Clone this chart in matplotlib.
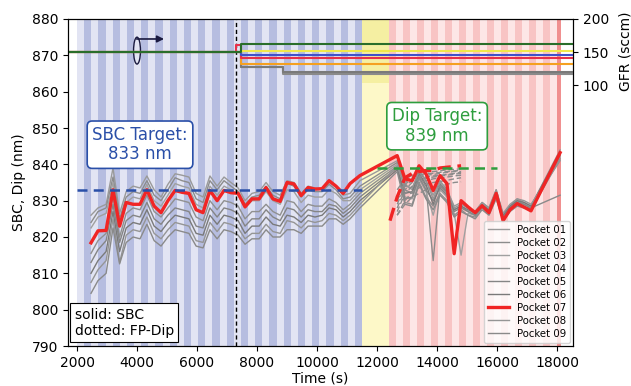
import numpy as np
import matplotlib
matplotlib.use("Agg")
import matplotlib.pyplot as plt
from matplotlib.patches import Ellipse

plt.rcParams['font.size'] = 10

# ---- data ----
t_sbc = [2467, 2700, 2970, 3200, 3420, 3640, 3870, 4100, 4330, 4570, 4800, 5030, 5270,
         5500, 5730, 5970, 6200, 6430, 6670, 6900, 7130, 7370, 7600, 7830, 8070, 8300,
         8530, 8770, 9000, 9230, 9470, 9700, 9930, 10170, 10400, 10630, 10870, 11100,
         11430, 12670, 12930, 13170, 13400, 13630, 13870, 14100, 14330, 14570, 14800,
         15030, 15270, 15500, 15730, 15970, 16200, 16430, 16670, 16900, 17130, 18100]

sbc = {
    "Pocket 01": [826.0, 828.0, 829.0, 839.0, 826.5, 832.5, 834.0, 833.5, 836.8, 833.0, 831.0, 834.5, 837.4,
                  837.0, 836.5, 832.0, 831.0, 836.8, 834.0, 836.5, 835.0, 833.5, 830.0, 832.0, 832.5, 835.0,
                  832.5, 831.5, 835.5, 835.0, 832.0, 834.0, 833.5, 833.0, 835.0, 834.0, 831.5, 832.0,
                  835.5, 841.0, 834.5, 833.0, 838.5, 835.5, 831.5, 835.5, 833.0, 828.5, 829.5,
                  828.0, 827.0, 829.5, 828.0, 833.0, 826.0, 828.5, 830.5, 829.5, 828.5, 844.0],
    "Pocket 02": [824.0, 827.0, 828.0, 836.5, 825.0, 831.0, 832.5, 832.0, 835.5, 831.5, 830.0, 833.0, 836.3,
                  835.5, 835.0, 830.5, 829.5, 835.5, 833.0, 835.5, 834.0, 832.5, 829.0, 831.0, 831.5, 834.0,
                  831.5, 830.5, 834.7, 834.0, 831.0, 833.0, 832.5, 832.5, 834.5, 833.0, 830.5, 831.0,
                  834.0, 840.5, 833.0, 832.0, 837.0, 834.0, 813.5, 834.0, 832.0, 827.5, 828.5,
                  827.0, 826.0, 828.5, 827.0, 832.0, 825.5, 828.0, 830.0, 829.0, 828.0, 843.0],
    "Pocket 03": [822.5, 825.5, 826.5, 835.0, 823.5, 829.5, 831.0, 830.5, 834.5, 830.0, 828.5, 831.5, 834.7,
                  834.0, 833.5, 829.0, 828.0, 834.0, 831.5, 834.0, 833.0, 831.5, 828.0, 830.0, 830.0, 832.5,
                  830.0, 829.0, 833.0, 832.5, 829.5, 831.5, 831.0, 831.0, 833.0, 832.0, 830.0, 830.0,
                  833.0, 840.0, 831.0, 830.5, 836.0, 832.5, 826.0, 833.0, 831.0, 826.5, 815.0,
                  826.5, 826.0, 828.0, 826.5, 831.5, 825.0, 827.5, 829.5, 828.5, 827.5, 842.0],
    "Pocket 04": [815.5, 819.0, 821.0, 831.0, 820.0, 826.5, 828.0, 827.5, 831.5, 827.0, 825.5, 828.0, 830.5,
                  830.0, 829.5, 825.5, 824.5, 830.0, 827.5, 830.0, 829.5, 828.5, 825.0, 827.0, 827.0, 829.0,
                  827.0, 826.0, 830.0, 829.5, 827.0, 829.0, 828.5, 828.5, 830.5, 829.5, 827.5, 829.0,
                  832.0, 839.5, 829.5, 829.0, 835.0, 831.0, 828.5, 832.0, 830.0, 826.0, 827.5,
                  826.0, 825.5, 828.0, 826.5, 831.0, 825.0, 827.5, 829.0, 828.5, 827.5, 841.5],
    "Pocket 05": [813.0, 816.5, 819.0, 829.0, 818.5, 824.5, 826.0, 825.5, 829.5, 825.0, 823.5, 826.0, 828.0,
                  827.5, 827.0, 823.0, 822.5, 828.0, 825.5, 828.0, 827.5, 826.5, 823.0, 825.0, 825.0, 827.5,
                  825.5, 824.5, 828.0, 827.5, 825.5, 827.5, 827.0, 827.0, 829.0, 828.5, 826.5, 828.0,
                  831.0, 839.0, 830.5, 831.0, 836.5, 833.0, 830.0, 833.5, 831.5, 827.0, 828.0,
                  827.0, 826.0, 828.5, 827.0, 831.5, 825.5, 828.0, 829.5, 829.0, 828.0, 842.5],
    "Pocket 06": [810.0, 813.5, 816.0, 827.0, 816.0, 822.5, 824.0, 823.5, 827.5, 823.0, 821.5, 824.0, 826.0,
                  825.5, 825.0, 821.0, 820.5, 826.0, 823.5, 826.0, 825.5, 824.5, 821.0, 823.0, 823.0, 825.5,
                  823.5, 823.0, 826.0, 825.5, 824.0, 826.0, 825.5, 826.0, 828.0, 827.5, 825.5, 827.0,
                  830.0, 838.5, 832.0, 832.5, 837.5, 834.5, 829.0, 834.5, 832.5, 827.5, 828.5,
                  827.5, 826.5, 829.0, 827.5, 832.5, 826.0, 828.5, 830.0, 829.5, 828.5, 843.5],
    "Pocket 07": [818.4, 821.7, 821.8, 833.0, 823.0, 829.5, 829.0, 829.0, 833.0, 828.5, 826.7, 830.0, 832.8,
                  832.3, 832.0, 827.5, 826.7, 832.8, 830.0, 832.8, 832.2, 832.0, 828.3, 830.5, 830.5, 833.6,
                  830.5, 829.8, 835.0, 834.6, 831.4, 833.6, 833.2, 833.3, 835.5, 834.0, 832.0, 834.7,
                  836.9, 842.4, 836.0, 835.5, 839.6, 837.4, 832.8, 836.9, 834.7, 815.4, 830.0,
                  828.3, 826.7, 828.6, 826.7, 832.0, 824.5, 827.5, 829.2, 828.2, 827.2, 843.2],
    "Pocket 08": [807.5, 811.0, 813.5, 825.0, 813.0, 820.5, 822.0, 821.5, 825.5, 821.0, 819.5, 822.0, 824.0,
                  823.5, 823.0, 819.0, 818.5, 824.0, 821.5, 824.0, 823.5, 822.5, 819.5, 821.0, 821.0, 823.5,
                  821.5, 821.0, 824.5, 824.0, 822.5, 824.5, 824.0, 824.5, 826.5, 826.0, 824.5, 826.0,
                  829.0, 839.5, 834.0, 833.5, 838.0, 835.5, 830.5, 835.0, 833.0, 828.0, 829.0,
                  828.0, 827.0, 829.5, 828.0, 833.0, 826.5, 829.0, 830.5, 830.0, 829.0, 841.0],
    "Pocket 09": [804.5, 808.0, 810.0, 822.5, 812.6, 818.5, 820.0, 819.5, 823.5, 819.0, 817.5, 820.0, 822.0,
                  821.5, 821.0, 817.5, 817.0, 822.0, 819.5, 822.0, 821.5, 820.5, 818.0, 819.5, 819.5, 822.0,
                  820.0, 820.0, 822.0, 822.0, 821.0, 823.0, 823.0, 823.0, 825.0, 825.0, 823.5, 825.0,
                  828.0, 838.0, 829.0, 828.5, 834.5, 830.5, 827.5, 831.5, 829.5, 825.5, 827.0,
                  826.0, 825.0, 827.5, 826.0, 830.5, 824.5, 827.0, 828.5, 828.0, 828.0, 831.5],
}

t_dip = [12670, 12930, 13170, 13400, 13630, 13870, 14100, 14330, 14570, 14800]
t_dip_red = [12430, 12670, 12930, 13170, 13400, 13630, 13870, 14100, 14330, 14570, 14800]
dip_red = [824.5, 831.0, 836.3, 837.5, 838.0, 838.3, 838.3, 839.0, 839.2, 839.4, 839.6]
dip_gray = [
    [833.0, 836.0, 837.0, 837.5, 838.0, 838.0, 838.2, 838.5, 838.6, 838.8],
    [831.0, 835.0, 836.5, 837.0, 837.5, 837.5, 837.8, 838.0, 838.2, 838.3],
    [829.0, 834.0, 835.5, 836.0, 836.5, 836.8, 837.0, 837.2, 837.5, 837.8],
    [827.0, 832.0, 834.0, 835.0, 835.5, 836.0, 836.3, 836.5, 836.8, 837.0],
    [826.0, 830.0, 832.5, 833.5, 834.5, 835.0, 835.3, 835.6, 836.0, 836.3],
    [830.0, 834.5, 836.0, 836.5, 837.0, 837.2, 837.5, 837.8, 838.0, 838.0],
    [828.0, 833.0, 835.0, 835.8, 836.2, 836.5, 836.8, 837.0, 837.3, 837.5],
    [826.0, 829.0, 831.0, 832.0, 833.0, 833.5, 834.0, 834.5, 835.0, 835.2],
]

sbc_target = 833
dip_target = 839

# gas flow (right axis), step lines
t_gfr = [1700, 7300, 7450, 8870, 18530]
gfr = {
    "gray1": [150, 150, 127, 117, 117],
    "gray2": [150, 150, 127, 120, 120],
    "orange": [150, 150, 132, 132, 132],
    "red": [150, 160, 141, 141, 141],
    "blue": [150, 150, 146, 146, 146],
    "yellow": [150, 150, 152, 152, 152],
    "green": [150, 150, 162, 162, 162],
}
gfr_colors = {"gray1": "#8a8a8a", "gray2": "#7a7a7a", "orange": "#f5a020", "red": "#e8304a",
              "blue": "#4050c8", "yellow": "#f2e84a", "green": "#2a6e2a"}

gray_colors = ['#9a9a9a', '#8c8c8c', '#a0a0a0', '#909090', '#858585', '#7a7a7a', None, '#959595', '#8a8a8a']
red = '#f02525'

fig = plt.figure(figsize=(6.31, 3.86), dpi=100)
ax = fig.add_axes([68/631, 40/386, 505/631, 327/386])

# background phases
sbc_start, sbc_end = 2000, 11500
n = 40
w = (sbc_end - sbc_start) / n
for i in range(n):
    ax.axvspan(sbc_start + i*w, sbc_start + (i+1)*w, color='#b6bde0' if i % 2 else '#e2e4f3', lw=0, zorder=0)
ax.axvspan(11500, 12400, color='#fdf8c8', lw=0, zorder=0)
ax.axvspan(11500, 12400, ymin=(862.4-790)/90, ymax=1, color='#f5efa2', lw=0, zorder=0)
dip_start, dip_end = 12400, 18000
n = 24
w = (dip_end - dip_start) / n
for i in range(n):
    ax.axvspan(dip_start + i*w, dip_start + (i+1)*w, color='#f8c4c4' if i % 2 == 0 else '#fde6e6', lw=0, zorder=0)
ax.axvspan(18000, 18130, color='#f09090', lw=0, zorder=0)

# SBC lines
for k, (name, vals) in enumerate(sbc.items()):
    if name == "Pocket 07":
        ax.plot(t_sbc, vals, color=red, lw=2.4, label=name, zorder=4)
    else:
        ax.plot(t_sbc, vals, color=gray_colors[k], lw=1.0, label=name, zorder=3)

# FP-Dip lines
for vals in dip_gray:
    ax.plot(t_dip, vals, color='#8c8c8c', lw=1.0, ls=(0, (4, 2)), zorder=3)
ax.plot(t_dip_red, dip_red, color=red, lw=2.4, ls=(0, (4, 2)), zorder=4)

# targets
ax.plot([2000, 11500], [sbc_target, sbc_target], color='#2a4fa8', lw=1.8, ls=(0, (4, 2.5)), zorder=5)
ax.plot([12000, 16000], [dip_target, dip_target], color='#2e9e3e', lw=1.8, ls=(0, (4, 2.5)), zorder=5)
ax.axvline(7300, color='black', lw=1.0, ls=(0, (3, 2)), zorder=5)

ax.text(4100, 845.4, "SBC Target:\n833 nm", color='#2a4fa8', fontsize=12, ha='center', va='center',
        linespacing=1.1, bbox=dict(boxstyle='round,pad=0.3', fc='white', ec='#2a4fa8', lw=1.2), zorder=6)
ax.text(14000, 850.5, "Dip Target:\n839 nm", color='#2e9e3e', fontsize=12, ha='center', va='center',
        linespacing=1.1, bbox=dict(boxstyle='round,pad=0.3', fc='white', ec='#2e9e3e', lw=1.2), zorder=6)
ax.text(0.013, 0.025, "solid: SBC\ndotted: FP-Dip", transform=ax.transAxes, fontsize=10, ha='left', va='bottom',
        bbox=dict(boxstyle='square,pad=0.3', fc='white', ec='black', lw=0.8), zorder=6)

# marker pointing to right axis
ax.add_patch(Ellipse((4000, 871.3), 230, 7.4, fill=False, ec='#1a1a40', lw=1.0, zorder=6))
ax.annotate('', xy=(4900, 874.5), xytext=(3990, 874.5),
            arrowprops=dict(arrowstyle='-|>', color='#1a1a40', lw=1.2, mutation_scale=10, shrinkA=0, shrinkB=0),
            zorder=6)

ax.set_xlim(1700, 18530)
ax.set_ylim(790, 880)
ax.set_xticks(range(2000, 18001, 2000))
ax.set_xlabel("Time (s)", labelpad=1)
ax.set_ylabel("SBC, Dip (nm)")
ax.legend(loc='lower right', fontsize=7.3, handlelength=2.0, labelspacing=0.3, borderpad=0.4,
          borderaxespad=0.3)

ax2 = ax.twinx()
for name in ["gray1", "gray2", "orange", "red", "blue", "yellow", "green"]:
    ax2.plot(t_gfr, gfr[name], drawstyle='steps-post', color=gfr_colors[name], lw=1.5)
ax2.set_ylim(-295, 200)
ax2.set_yticks([100, 150, 200])
ax2.set_ylabel("GFR (sccm)")
ax2.yaxis.set_label_coords(1.09, 0.9)

fig.savefig("out.png", dpi=100)
